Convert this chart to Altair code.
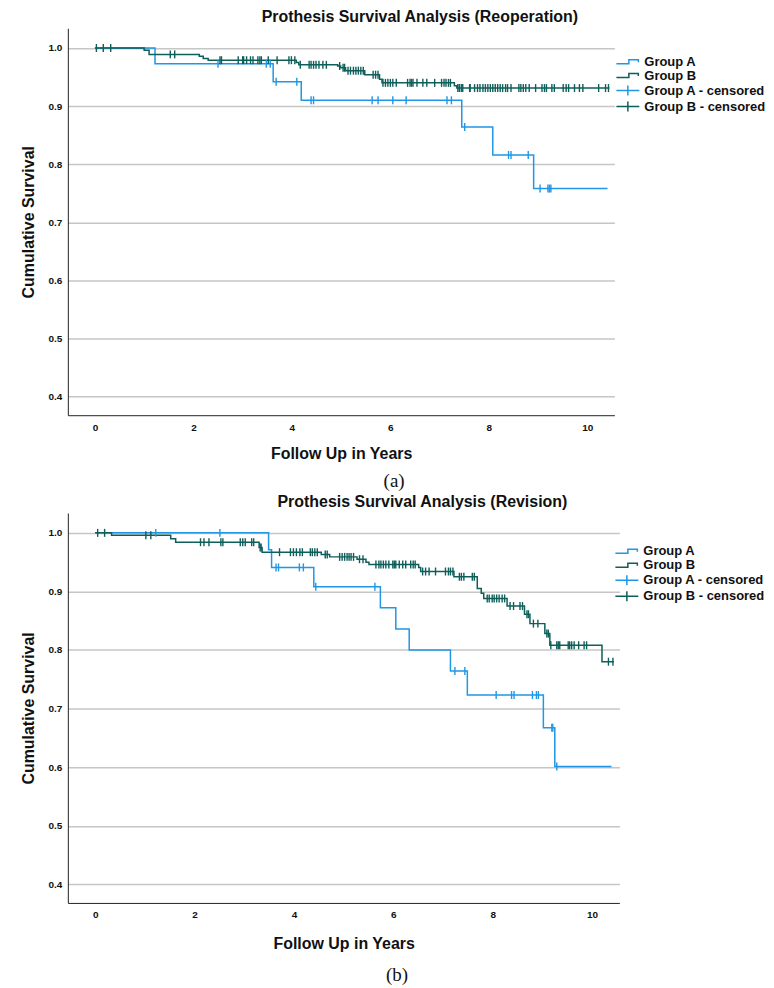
import altair as alt
import numpy as np
import pandas as pd

# ---------------- data ----------------
series_names = ["Group A", "Group B", "Group A - censored", "Group B - censored"]
series_colors = ["#1F97E6", "#0E5E59"]

# (a) Reoperation
reop_a_time = [0, 1.22, 3.62, 4.19, 7.45, 8.08, 8.91, 10.41]
reop_a_surv = [1.0, 0.973, 0.942, 0.910, 0.864, 0.816, 0.758, 0.758]
reop_a_cens = [2.50, 3.48, 3.56, 3.68, 4.10, 4.39, 4.44, 5.63, 5.75, 6.05, 6.32,
               7.15, 7.24, 7.51, 8.40, 8.45, 8.80, 9.04, 9.20, 9.23, 9.26]

reop_b_time = [0, 1.00, 1.10, 2.12, 2.20, 2.30, 4.09, 4.14, 4.93, 4.99, 5.09, 5.48,
               5.78, 5.83, 7.30, 7.35, 10.45]
reop_b_surv = [1.0, 0.996, 0.989, 0.986, 0.982, 0.979, 0.975, 0.971, 0.969, 0.966,
               0.961, 0.954, 0.946, 0.940, 0.935, 0.931, 0.931]
reop_b_cens = [0.03, 0.17, 0.32, 1.53, 1.62, 2.54, 2.57, 2.91, 3.00, 3.02, 3.08, 3.16,
               3.21, 3.31, 3.35, 3.38, 3.52, 3.70, 3.94, 3.99, 4.06, 4.17, 4.35, 4.39,
               4.44, 4.49, 4.55, 4.63, 4.70, 4.97, 5.04, 5.07, 5.14, 5.19, 5.25, 5.30,
               5.35, 5.40, 5.45, 5.65, 5.70, 5.75, 5.85, 5.90, 5.95, 6.00, 6.05, 6.12,
               6.35, 6.40, 6.43, 6.46, 6.54, 6.66, 6.74, 6.90, 7.04, 7.09, 7.13, 7.18,
               7.22, 7.37, 7.40, 7.44, 7.47, 7.61, 7.62, 7.71, 7.77, 7.82, 7.88, 7.93,
               7.98, 8.03, 8.08, 8.13, 8.18, 8.23, 8.28, 8.34, 8.38, 8.45, 8.61, 8.65,
               8.70, 8.75, 8.82, 8.95, 9.08, 9.13, 9.17, 9.28, 9.33, 9.51, 9.57, 9.62,
               9.74, 9.84, 9.91, 10.23, 10.37, 10.43]

# (b) Revision
rev_a_time = [0, 3.49, 3.55, 4.40, 5.74, 6.05, 6.32, 7.15, 7.49, 9.02, 9.25, 10.39]
rev_a_surv = [1.0, 0.971, 0.941, 0.908, 0.872, 0.836, 0.800, 0.764, 0.723, 0.667,
              0.601, 0.601]
rev_a_cens = [1.22, 2.51, 3.64, 3.69, 4.11, 4.19, 4.44, 5.63, 7.24, 7.44, 8.07, 8.38,
              8.43, 8.80, 8.88, 8.92, 9.19, 9.21, 9.29]

rev_b_time = [0, 0.33, 1.52, 1.62, 3.30, 3.36, 4.55, 4.72, 5.27, 5.45, 5.51, 6.51,
              6.55, 7.22, 7.69, 7.77, 7.82, 8.29, 8.64, 8.75, 9.05, 9.15, 10.20, 10.44]
rev_b_surv = [1.0, 0.996, 0.990, 0.984, 0.975, 0.967, 0.963, 0.959, 0.955, 0.950,
              0.946, 0.941, 0.934, 0.925, 0.905, 0.897, 0.888, 0.875, 0.861, 0.845,
              0.828, 0.808, 0.780, 0.780]
rev_b_cens = [0.05, 0.19, 1.02, 1.12, 2.12, 2.19, 2.29, 2.53, 2.57, 2.92, 2.97, 3.02,
              3.15, 3.19, 3.32, 3.34, 3.71, 3.93, 3.99, 4.05, 4.12, 4.17, 4.33, 4.37,
              4.42, 4.47, 4.63, 4.67, 4.92, 4.97, 5.02, 5.07, 5.11, 5.15, 5.20, 5.32,
              5.39, 5.65, 5.71, 5.75, 5.80, 5.85, 5.91, 5.99, 6.02, 6.05, 6.12, 6.19,
              6.25, 6.35, 6.40, 6.44, 6.59, 6.65, 6.72, 6.85, 7.05, 7.11, 7.15, 7.20,
              7.33, 7.37, 7.42, 7.59, 7.63, 7.89, 7.93, 7.99, 8.03, 8.08, 8.13, 8.19,
              8.24, 8.35, 8.42, 8.55, 8.60, 8.69, 8.72, 8.82, 8.91, 9.09, 9.12, 9.17,
              9.29, 9.32, 9.35, 9.52, 9.55, 9.59, 9.64, 9.73, 9.84, 9.89, 10.33, 10.42]

x_ticks = [0, 2, 4, 6, 8, 10]
y_ticks = [0.4, 0.5, 0.6, 0.7, 0.8, 0.9, 1.0]

# ---------------- styling ----------------
NARROW = "Liberation Sans Narrow, Arial Narrow, Liberation Sans, Arial, sans-serif"
SANS = "Liberation Sans, Arial, sans-serif"
STEP_PATH = "M-2.3,0.4 L0.2,0.4 L0.2,-0.4 L2.1,-0.4 L2.1,0.1"
CROSS_PATH = "M-2.3,0 L2.3,0 M0,-1 L0,1"
COLOR_OF = {"Group A": series_colors[0], "Group B": series_colors[1],
            "Group A - censored": series_colors[0], "Group B - censored": series_colors[1]}

color_scale = alt.Scale(domain=series_names, range=series_colors + series_colors)
shape_scale = alt.Scale(domain=series_names,
                        range=[STEP_PATH, STEP_PATH, CROSS_PATH, CROSS_PATH])


def curve_df(name, times, survs):
    return pd.DataFrame({"series": name, "col": COLOR_OF[name],
                         "time": times, "surv": survs})


def censor_df(name, times, ev_times, ev_survs):
    idx = np.searchsorted(np.array(ev_times), np.array(times), side="right") - 1
    return pd.DataFrame({"series": name, "col": COLOR_OF[name], "time": times,
                         "surv": np.array(ev_survs)[idx]})


def panel(title, a_t, a_s, a_c, b_t, b_s, b_c, label, w, h, lab_dy, leg_x, leg_y,
          xt_pad):
    lines = pd.concat([curve_df("Group A", a_t, a_s), curve_df("Group B", b_t, b_s)])
    cens = pd.concat([censor_df("Group A - censored", a_c, a_t, a_s),
                      censor_df("Group B - censored", b_c, b_t, b_s)])
    xs = alt.Scale(domain=[-0.55, 10.55], nice=False, zero=False)
    ys = alt.Scale(domain=[0.368, 1.034], nice=False, zero=False)
    xenc = alt.X("time:Q", scale=xs,
                 axis=alt.Axis(values=x_ticks, format="d", title="Follow Up in Years",
                               grid=False, ticks=False, domainColor="#222",
                               labelFont=NARROW, labelFontWeight="bold", labelFontSize=10,
                               labelPadding=7, labelColor="#111",
                               titleFont=NARROW, titleFontSize=16, titleFontWeight="bold",
                               titlePadding=xt_pad, titleColor="#111"))
    yenc = alt.Y("surv:Q", scale=ys,
                 axis=alt.Axis(values=y_ticks, format=".1f", title="Cumulative Survival",
                               grid=True, gridColor="#c6c6c6", gridWidth=1.5,
                               ticks=False, domainColor="#222",
                               labelFont=NARROW, labelFontWeight="bold", labelFontSize=10,
                               labelPadding=6, labelColor="#111",
                               titleFont=NARROW, titleFontSize=16, titleFontWeight="bold",
                               titlePadding=12, titleColor="#111"))
    line_layer = alt.Chart(lines).mark_line(interpolate="step-after", strokeWidth=1.5,
                                            opacity=1).encode(
        x=xenc, y=yenc,
        color=alt.Color("col:N", scale=None),
        detail="series:N")
    tick_layer = alt.Chart(cens).mark_tick(orient="vertical", size=8, thickness=1.4,
                                           opacity=1).encode(
        x="time:Q", y="surv:Q",
        color=alt.Color("col:N", scale=None))
    leg = alt.Legend(title=None, orient="none", legendX=leg_x, legendY=leg_y, padding=0,
                     rowPadding=-1, symbolSize=100, symbolStrokeWidth=1.5,
                     labelFont=SANS, labelFontWeight="bold", labelFontSize=13,
                     labelColor="#111", labelOffset=10)
    legend_layer = alt.Chart(pd.DataFrame({"series": series_names})).mark_point(
        filled=False, clip=True, opacity=1, strokeWidth=1.5).encode(
        x=alt.value(-200), y=alt.value(-200),
        color=alt.Color("series:N", scale=color_scale, legend=leg),
        shape=alt.Shape("series:N", scale=shape_scale, legend=leg))
    lab_layer = alt.Chart(pd.DataFrame({"lab": [label]})).mark_text(
        font="Liberation Serif, Times New Roman, serif", fontSize=19, color="#111",
        baseline="middle", align="center").encode(
        text="lab:N", x=alt.value(w * 0.597), y=alt.value(h + lab_dy))
    return alt.layer(line_layer, tick_layer, legend_layer, lab_layer).properties(
        width=w, height=h,
        title=alt.TitleParams(title, font=NARROW, fontSize=16, fontWeight="bold",
                              color="#111", anchor="middle", dx=79, offset=3))


top = panel("Prothesis Survival Analysis (Reoperation)",
            reop_a_time, reop_a_surv, reop_a_cens,
            reop_b_time, reop_b_surv, reop_b_cens, "(a)", 548, 388, 66, 555, 27, 13)
bottom = panel("Prothesis Survival Analysis (Revision)",
               rev_a_time, rev_a_surv, rev_a_cens,
               rev_b_time, rev_b_surv, rev_b_cens, "(b)", 553, 391, 72, 554, 32, 16)

chart = alt.vconcat(top, bottom, spacing=3).properties(
    padding={"left": 12, "top": 0, "right": 0, "bottom": 0}).configure_view(
    stroke=None).resolve_scale(color="independent", shape="independent")

chart.save("out.html", embed_options={"renderer": "svg", "actions": False})
